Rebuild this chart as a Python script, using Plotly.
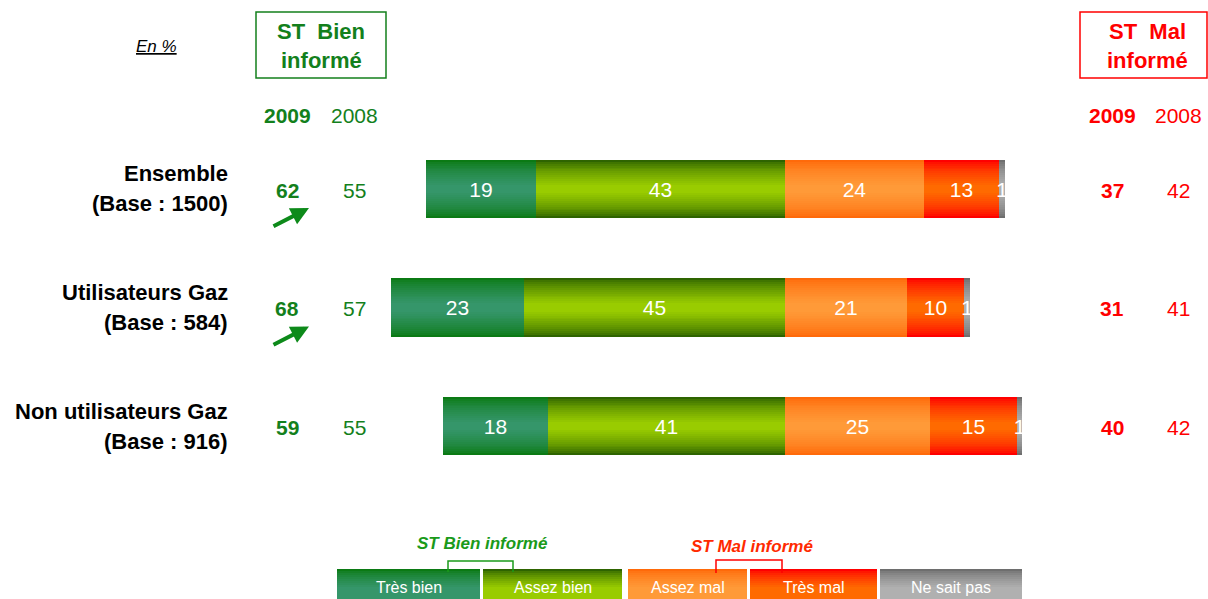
import plotly.graph_objects as go

# ---------------- data ----------------
rows = ["Ensemble", "Utilisateurs Gaz", "Non utilisateurs Gaz"]
bases = ["(Base : 1500)", "(Base : 584)", "(Base : 916)"]
tres_bien = [19, 23, 18]
assez_bien = [43, 45, 41]
assez_mal = [24, 21, 25]
tres_mal = [13, 10, 15]
nsp = [1, 1, 1]
st_bien_2009 = [62, 68, 59]
st_bien_2008 = [55, 57, 55]
st_mal_2009 = [37, 31, 40]
st_mal_2008 = [42, 41, 42]
arrow_up = [True, True, False]
legend_labels = ["Très bien", "Assez bien", "Assez mal", "Très mal", "Ne sait pas"]

W, H = 1208, 599
GREEN = "#13801c"
RED = "#ff0000"
FONT = "Liberation Sans, Arial"

# segment colors: (edge colour, centre colour)
seg_colors = {
    "Très bien": ("#0b7a14", "#35966a"),
    "Assez bien": ("#2e6400", "#99cc00"),
    "Assez mal": ("#ff6a0a", "#ff9a38"),
    "Très mal": ("#ff0000", "#ff6a00"),
    "Ne sait pas": ("#6e6e6e", "#b0b0b0"),
}


def hex2rgb(h):
    h = h.lstrip("#")
    return tuple(int(h[i:i + 2], 16) for i in (0, 2, 4))


def mix(c1, c2, t):
    a, b = hex2rgb(c1), hex2rgb(c2)
    return "rgb(%d,%d,%d)" % tuple(round(a[i] + (b[i] - a[i]) * t) for i in range(3))


neg_segments = [("Assez bien", assez_bien), ("Très bien", tres_bien)]
pos_segments = [("Assez mal", assez_mal), ("Très mal", tres_mal), ("Ne sait pas", nsp)]

segments = []  # (name, values, bases)
cum = [0, 0, 0]
for name, vals in neg_segments:
    b = [-(c + v) for c, v in zip(cum, vals)]
    segments.append((name, vals, b))
    cum = [c + v for c, v in zip(cum, vals)]
cum = [0, 0, 0]
for name, vals in pos_segments:
    b = list(cum)
    segments.append((name, vals, b))
    cum = [c + v for c, v in zip(cum, vals)]

ypos = list(range(len(rows)))
fig = go.Figure()

layers = 14
full_w = 0.49
for li in range(layers):
    t = li / (layers - 1)
    w = full_w * (1 - 0.85 * t)
    for name, vals, b in segments:
        edge, centre = seg_colors[name]
        fig.add_trace(go.Bar(
            x=vals, base=b, y=ypos, orientation="h", width=w,
            marker=dict(color=mix(edge, centre, t ** 0.7), line=dict(width=0)),
            showlegend=False, hoverinfo="skip",
        ))

# text layer
for name, vals, b in segments:
    fig.add_trace(go.Bar(
        x=vals, base=b, y=ypos, orientation="h", width=full_w,
        marker=dict(color="rgba(0,0,0,0)", line=dict(width=0)),
        text=[str(v) for v in vals], textposition="inside",
        insidetextanchor="middle", constraintext="none",
        textfont=dict(color="white", size=21, family=FONT),
        showlegend=False, hoverinfo="skip",
    ))

px_per_unit = 5.79
center_px = 785
xmin = -center_px / px_per_unit
xmax = (W - center_px) / px_per_unit
row0_px, row_step = 189, 118.5
ytop = -row0_px / row_step
ybot = (H - row0_px) / row_step

fig.update_layout(
    width=W, height=H, margin=dict(l=0, r=0, t=0, b=0),
    paper_bgcolor="white", plot_bgcolor="white",
    barmode="overlay", bargap=0,
    xaxis=dict(range=[xmin, xmax], visible=False, fixedrange=True),
    yaxis=dict(range=[ybot, ytop], visible=False, fixedrange=True),
    font=dict(family=FONT),
)


def px(x):
    return x / W


def py(y):
    return 1 - y / H


ann = []
shapes = []


def text(x, y, s, size=21, color="black", bold=False, italic=False, xanchor="center"):
    if bold:
        s = "<b>%s</b>" % s
    if italic:
        s = "<i>%s</i>" % s
    ann.append(dict(x=px(x), y=py(y), xref="paper", yref="paper", text=s, showarrow=False,
                    xanchor=xanchor, yanchor="middle",
                    font=dict(size=size, color=color, family=FONT)))


# headers
text(156, 46, "<u>En %</u>", size=17, italic=True)
shapes.append(dict(type="rect", xref="paper", yref="paper", x0=px(256), x1=px(386), y0=py(12), y1=py(78),
                   line=dict(color=GREEN, width=1.5)))
text(321, 31, "ST  Bien", size=22, color=GREEN, bold=True)
text(321, 60, "informé", size=22, color=GREEN, bold=True)
shapes.append(dict(type="rect", xref="paper", yref="paper", x0=px(1080), x1=px(1207), y0=py(12), y1=py(78),
                   line=dict(color=RED, width=1.5)))
text(1147, 31, "ST  Mal", size=22, color=RED, bold=True)
text(1147, 60, "informé", size=22, color=RED, bold=True)
text(287, 115, "2009", color=GREEN, bold=True)
text(354, 115, "2008", color=GREEN)
text(1112, 115, "2009", color=RED, bold=True)
text(1178, 115, "2008", color=RED)

for i in range(len(rows)):
    yc = row0_px + row_step * i
    text(230, yc - 15, rows[i], size=22, bold=True, xanchor="right")
    text(230, yc + 15, bases[i], size=22, bold=True, xanchor="right")
    text(287, yc + 1, str(st_bien_2009[i]), color=GREEN, bold=True)
    text(354, yc + 1, str(st_bien_2008[i]), color=GREEN)
    text(1112, yc + 1, str(st_mal_2009[i]), color=RED, bold=True)
    text(1178, yc + 1, str(st_mal_2008[i]), color=RED)
    if arrow_up[i]:
        ann.append(dict(x=px(309), y=py(yc + 19), xref="paper", yref="paper", text="",
                        showarrow=True, ax=-37, ay=19, axref="pixel", ayref="pixel",
                        arrowhead=2, arrowsize=0.9, arrowwidth=4, arrowcolor="#0d8a1a"))

# legend strip
leg_boxes = [(337, 480), (483, 622), (628, 747), (750, 877), (880, 1022)]
for (x0, x1), lab in zip(leg_boxes, legend_labels):
    edge, centre = seg_colors[lab]
    nl = 10
    for li in range(nl):
        t = li / (nl - 1)
        shapes.append(dict(type="rect", xref="paper", yref="paper", x0=px(x0), x1=px(x1),
                           y0=py(599), y1=py(569 + 2 * li),
                           fillcolor=mix(edge, centre, t ** 0.7), line=dict(width=0), layer="above"))
    text((x0 + x1) / 2, 587, lab, size=16, color="white")

# brackets
for (xa, xb, col, top, bot) in [(448, 513, "#1a9a1a", 561, 572), (716, 782, RED, 560, 573)]:
    shapes.append(dict(type="path", xref="paper", yref="paper",
                       path="M %f %f L %f %f L %f %f L %f %f" % (px(xa), py(bot), px(xa), py(top),
                                                               px(xb), py(top), px(xb), py(bot)),
                       line=dict(color=col, width=1.5), layer="above"))
text(482, 543, "ST Bien informé", size=17, color="#1a9a1a", bold=True, italic=True)
text(752, 546, "ST Mal informé", size=17, color="#ff2a00", bold=True, italic=True)

fig.update_layout(annotations=ann, shapes=shapes)
fig.write_html(
    "out.html",
    config={"displayModeBar": False},
    post_script="document.body.style.margin='0';document.body.style.padding='0';"
                "document.body.style.overflow='hidden';",
)
